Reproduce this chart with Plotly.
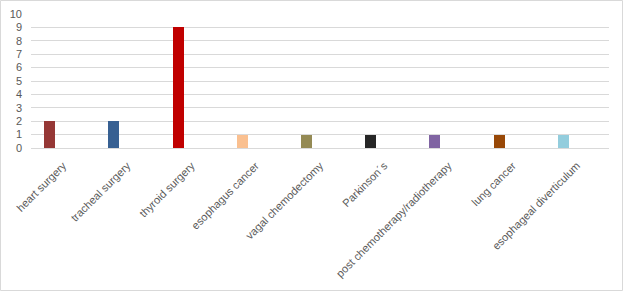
import plotly.graph_objects as go

categories = ["heart surgery", "tracheal surgery", "thyroid surgery", "esophagus cancer",
              "vagal chemodectomy", "Parkinson\u00b4s", "post chemotherapy/radiotherapy",
              "lung cancer", "esophageal diverticulum"]
values = [2, 2, 9, 1, 1, 1, 1, 1, 1]
colors = ["#953735", "#376092", "#C00000", "#FAC090", "#948A54", "#262626",
          "#8064A2", "#984807", "#93CDDD"]
y_ticks = list(range(0, 11))

W, H = 623, 291
ml, mr, mt, mb = 31, 14, 14, 143
pw, ph = W - ml - mr, H - mt - mb

fig = go.Figure(go.Bar(
    x=categories, y=values, marker=dict(color=colors, line=dict(width=0)),
    width=0.171, offset=-0.296,
))

fig.update_layout(
    width=W, height=H, margin=dict(l=ml, r=mr, t=mt, b=mb, autoexpand=False),
    paper_bgcolor="white", plot_bgcolor="white", showlegend=False,
    font=dict(family="Liberation Sans, Arial", color="#595959", size=11),
    bargap=0,
)
fig.update_xaxes(type="category", tickangle=-45, showline=True, linecolor="#D9D9D9",
                 linewidth=1, ticks="", showgrid=False, ticklabelstandoff=6,
                 automargin=False, tickfont=dict(size=11, color="#595959"))
fig.update_yaxes(range=[0, 10], tickvals=y_ticks, showgrid=True, gridcolor="#D9D9D9",
                 gridwidth=1, zeroline=False, showline=False, ticks="",
                 automargin=False, ticklabelstandoff=8,
                 tickfont=dict(size=11, color="#595959"))
fig.add_shape(type="rect", xref="paper", yref="paper",
              x0=-(ml - 0.5) / pw, x1=1 + (mr - 0.5) / pw,
              y0=-(mb - 0.5) / ph, y1=1 + (mt - 0.5) / ph,
              line=dict(color="#D9D9D9", width=1), fillcolor="rgba(0,0,0,0)", layer="below")

fig.write_html("out.html")
